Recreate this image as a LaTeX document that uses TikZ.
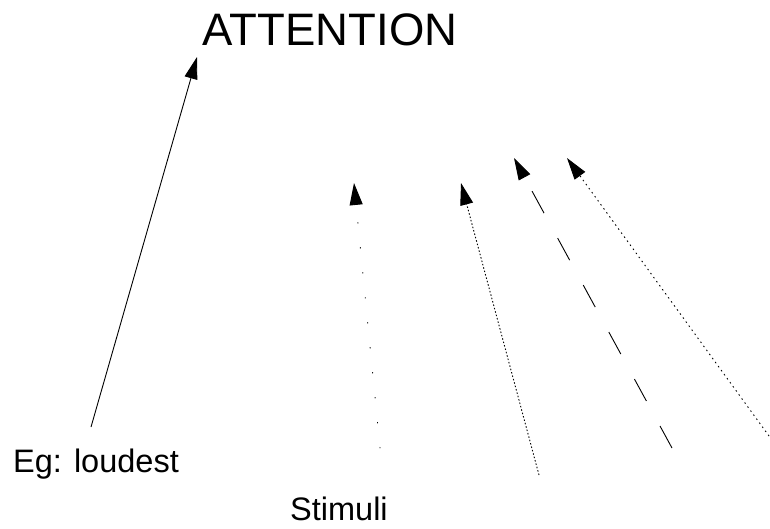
\documentclass[tikz,border=0pt]{standalone}
\usepackage{fontspec}
\setmainfont{Liberation Sans}
\usetikzlibrary{arrows.meta}

\begin{document}
\begin{tikzpicture}[x=1pt,y=-1pt,>={Triangle[length=22pt,width=13pt]},
  cue/.style={->,line width=0.9pt},
  label/.style={inner sep=0pt,anchor=base west,font=\fontsize{32.5}{33}\selectfont}]
  \useasboundingbox (0,0) rectangle (770,528);
  \node[inner sep=0pt,anchor=base,font=\fontsize{45.5}{46}\selectfont] (attn) at (330,45) {ATTENTION};
  \node[label] (loud) at (13,472) {Eg: loudest};
  \node[label] (stim) at (290,520) {Stimuli};
  \coordinate (tail0) at (91,427);  \coordinate (head0) at (197,57);
  \coordinate (tail1) at (380,448); \coordinate (head1) at (354,183);
  \coordinate (tail2) at (539,475); \coordinate (head2) at (461,183);
  \coordinate (tail3) at (672,448); \coordinate (head3) at (514,158);
  \coordinate (tail4) at (769,436); \coordinate (head4) at (567,158);
  \draw[cue] (tail0) -- (head0);
  \draw[cue,line cap=round,dash pattern=on 0.6pt off 24.5pt] (tail1) -- (head1);
  \draw[cue,dash pattern=on 1.5pt off 2pt] (tail2) -- (head2);
  \draw[cue,dash pattern=on 25pt off 28.5pt] (tail3) -- (head3);
  \draw[cue,dash pattern=on 1.5pt off 3.5pt] (tail4) -- (head4);
\end{tikzpicture}
\end{document}
